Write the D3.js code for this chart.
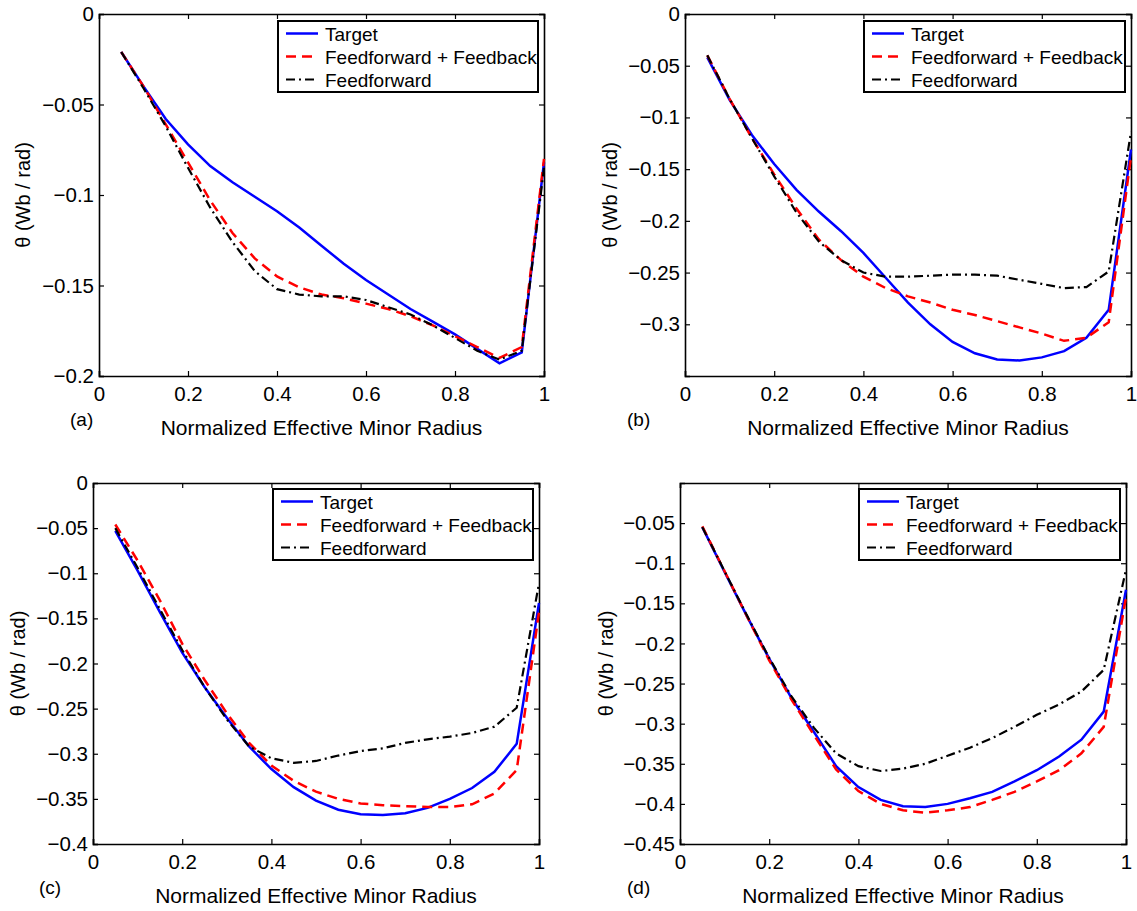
<!DOCTYPE html>
<html>
  <head>
    <meta charset="utf-8">
    <title>Theta profiles</title>
    <script src="https://cdn.jsdelivr.net/npm/d3@7"></script>
    <style>
      body { margin: 0; background: #fff; }
      text { font-family: "Liberation Sans", Arial, sans-serif; fill: #000; }
    </style>
  </head>
  <body>
    <svg width="1137" height="911" id="mainsvg"></svg>
    <script>
      // normalized effective minor radius samples
      const radius = [0.05, 0.1, 0.15, 0.2, 0.25, 0.3, 0.35, 0.4, 0.45, 0.5,
                      0.55, 0.6, 0.65, 0.7, 0.75, 0.8, 0.85, 0.9, 0.95, 1.0];
      const seriesNames = ['Target', 'Feedforward + Feedback', 'Feedforward'];
      const xTicks = [0, 0.2, 0.4, 0.6, 0.8, 1];

      // panel (a)
      const aTarget = [-0.021, -0.040, -0.058, -0.072, -0.084, -0.093, -0.101, -0.109, -0.118, -0.128,
                       -0.138, -0.147, -0.155, -0.163, -0.170, -0.177, -0.185, -0.193, -0.187, -0.082];
      const aFFFB   = [-0.021, -0.040, -0.061, -0.082, -0.103, -0.121, -0.135, -0.145, -0.151, -0.155,
                       -0.157, -0.160, -0.163, -0.167, -0.172, -0.178, -0.184, -0.190, -0.184, -0.080];
      const aFF     = [-0.021, -0.041, -0.062, -0.085, -0.107, -0.126, -0.142, -0.152, -0.155, -0.156,
                       -0.156, -0.158, -0.162, -0.166, -0.172, -0.179, -0.186, -0.191, -0.186, -0.085];
      const aTicks  = [0, -0.05, -0.1, -0.15, -0.2];

      // panel (b)
      const bTarget = [-0.042, -0.083, -0.117, -0.145, -0.170, -0.191, -0.210, -0.231, -0.255, -0.279,
                       -0.300, -0.317, -0.328, -0.334, -0.335, -0.332, -0.326, -0.313, -0.286, -0.131];
      const bFFFB   = [-0.040, -0.082, -0.120, -0.155, -0.188, -0.218, -0.238, -0.254, -0.265, -0.273,
                       -0.279, -0.286, -0.291, -0.297, -0.303, -0.309, -0.316, -0.313, -0.298, -0.138];
      const bFF     = [-0.040, -0.082, -0.120, -0.157, -0.192, -0.220, -0.238, -0.250, -0.254, -0.254,
                       -0.253, -0.252, -0.252, -0.253, -0.257, -0.261, -0.265, -0.264, -0.249, -0.114];
      const bTicks  = [0, -0.05, -0.1, -0.15, -0.2, -0.25, -0.3];

      // panel (c)
      const cTarget = [-0.053, -0.097, -0.143, -0.188, -0.226, -0.260, -0.292, -0.317, -0.337, -0.352,
                       -0.362, -0.367, -0.368, -0.366, -0.360, -0.350, -0.338, -0.320, -0.289, -0.133];
      const cFFFB   = [-0.046, -0.086, -0.130, -0.178, -0.218, -0.255, -0.288, -0.313, -0.330, -0.342,
                       -0.350, -0.355, -0.357, -0.358, -0.359, -0.359, -0.356, -0.344, -0.318, -0.143];
      const cFF     = [-0.050, -0.094, -0.140, -0.185, -0.226, -0.262, -0.292, -0.305, -0.310, -0.308,
                       -0.302, -0.297, -0.294, -0.288, -0.284, -0.281, -0.277, -0.270, -0.249, -0.111];
      const cTicks  = [0, -0.05, -0.1, -0.15, -0.2, -0.25, -0.3, -0.35, -0.4];

      // panel (d)
      const dTarget = [-0.055, -0.111, -0.166, -0.219, -0.268, -0.310, -0.353, -0.379, -0.395, -0.403,
                       -0.404, -0.400, -0.393, -0.385, -0.372, -0.358, -0.341, -0.320, -0.285, -0.133];
      const dFFFB   = [-0.054, -0.110, -0.166, -0.221, -0.270, -0.314, -0.357, -0.384, -0.400, -0.408,
                       -0.411, -0.408, -0.404, -0.395, -0.385, -0.372, -0.358, -0.337, -0.304, -0.142];
      const dFF     = [-0.055, -0.110, -0.165, -0.218, -0.266, -0.305, -0.337, -0.353, -0.359, -0.356,
                       -0.350, -0.340, -0.330, -0.318, -0.304, -0.289, -0.276, -0.260, -0.233, -0.108];
      const dTicks  = [-0.05, -0.1, -0.15, -0.2, -0.25, -0.3, -0.35, -0.4, -0.45];

      const styles = [
        {stroke: '#0000ff', width: 2.5, dash: null},
        {stroke: '#ff0000', width: 2.5, dash: '10,6'},
        {stroke: '#000000', width: 2.2, dash: '9,4,2,4'}
      ];

      const panels = [
        {tag: '(a)', series: [aTarget, aFFFB, aFF], ticks: aTicks, domain: [-0.2, 0],
         box: {x0: 99, x1: 544, y0: 14, y1: 376}, legend: {x: 278, y: 21, w: 260, h: 71},
         ylabX: 30, tagX: 70},
        {tag: '(b)', series: [bTarget, bFFFB, bFF], ticks: bTicks, domain: [-0.35, 0],
         box: {x0: 685, x1: 1131, y0: 14, y1: 376}, legend: {x: 864, y: 21, w: 261, h: 71},
         ylabX: 617, tagX: 627},
        {tag: '(c)', series: [cTarget, cFFFB, cFF], ticks: cTicks, domain: [-0.4, 0],
         box: {x0: 93, x1: 539, y0: 483, y1: 844}, legend: {x: 273, y: 489, w: 260, h: 71},
         ylabX: 25, tagX: 39},
        {tag: '(d)', series: [dTarget, dFFFB, dFF], ticks: dTicks, domain: [-0.45, 0],
         box: {x0: 680, x1: 1126, y0: 483, y1: 844}, legend: {x: 859, y: 489, w: 261, h: 71},
         ylabX: 613, tagX: 627}
      ];

      const svg = d3.select('#mainsvg');
      const fmt = v => (v === 0 ? '0' : String(v).replace('-', '\u2212'));

      panels.forEach(p => {
        const b = p.box;
        const xScale = d3.scaleLinear().domain([0, 1]).range([b.x0, b.x1]);
        const yScale = d3.scaleLinear().domain(p.domain).range([b.y1, b.y0]);
        const g = svg.append('g');

        // axes: ticks inward on all four sides, MATLAB box style
        const tl = 5;
        g.append('g').attr('transform', `translate(0,${b.y1})`)
          .call(d3.axisBottom(xScale).tickValues(xTicks).tickSize(-tl).tickPadding(10).tickFormat(fmt));
        g.append('g').attr('transform', `translate(0,${b.y0})`)
          .call(d3.axisTop(xScale).tickValues(xTicks).tickSize(-tl).tickFormat(''));
        g.append('g').attr('transform', `translate(${b.x0},0)`)
          .call(d3.axisLeft(yScale).tickValues(p.ticks).tickSize(-tl).tickPadding(5).tickFormat(fmt));
        g.append('g').attr('transform', `translate(${b.x1},0)`)
          .call(d3.axisRight(yScale).tickValues(p.ticks).tickSize(-tl).tickFormat(''));
        g.selectAll('.domain').attr('stroke', '#000').attr('stroke-width', 1.6);
        g.selectAll('.tick line').attr('stroke', '#000').attr('stroke-width', 1.2);
        g.selectAll('.tick text').attr('font-size', 20.5)
          .attr('font-family', '"Liberation Sans", Arial, sans-serif');

        // curves
        const line = d3.line().x((d, i) => xScale(radius[i])).y(d => yScale(d));
        p.series.forEach((s, k) => {
          g.append('path').datum(s)
            .attr('fill', 'none')
            .attr('stroke', styles[k].stroke)
            .attr('stroke-width', styles[k].width)
            .attr('stroke-dasharray', styles[k].dash)
            .attr('d', line);
        });

        // legend
        const L = p.legend;
        const lg = g.append('g').attr('transform', `translate(${L.x},${L.y})`);
        lg.append('rect').attr('width', L.w).attr('height', L.h)
          .attr('fill', '#fff').attr('stroke', '#000').attr('stroke-width', 2);
        seriesNames.forEach((name, k) => {
          const cy = 12.5 + k * 23;
          lg.append('line').attr('x1', 8).attr('x2', 40).attr('y1', cy).attr('y2', cy)
            .attr('stroke', styles[k].stroke)
            .attr('stroke-width', styles[k].width)
            .attr('stroke-dasharray', styles[k].dash);
          lg.append('text').attr('x', 47).attr('y', cy + 7)
            .attr('font-size', 19).text(name);
        });

        // labels
        g.append('text')
          .attr('transform', `translate(${p.ylabX},${(b.y0 + b.y1) / 2}) rotate(-90)`)
          .attr('text-anchor', 'middle').attr('font-size', 20)
          .text('\u03b8 (Wb / rad)');
        g.append('text')
          .attr('x', (b.x0 + b.x1) / 2).attr('y', b.y1 + 59)
          .attr('text-anchor', 'middle').attr('font-size', 21)
          .text('Normalized Effective Minor Radius');
        g.append('text')
          .attr('x', p.tagX).attr('y', b.y1 + 50)
          .attr('font-family', '"Liberation Serif", "Times New Roman", serif')
          .attr('font-size', 19)
          .text(p.tag);
      });
    </script>
  </body>
</html>
